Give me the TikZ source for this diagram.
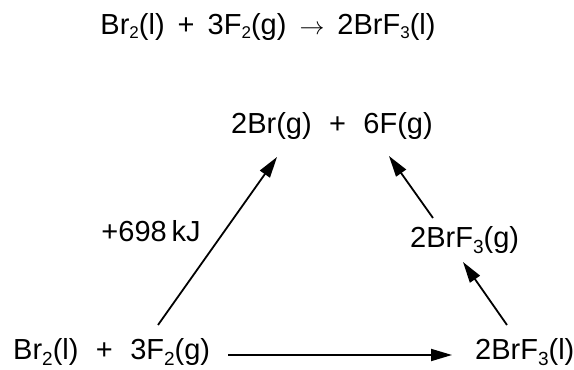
\documentclass[tikz,border=0pt]{standalone}
\usepackage{fontspec}
\setmainfont{Liberation Sans}
\usetikzlibrary{arrows.meta,calc,positioning}
\newcommand{\sbs}[1]{\raisebox{-0.2em}{\fontsize{19}{19}\selectfont #1}}
\newcommand{\sbt}[1]{\raisebox{-0.12em}{\fontsize{17}{17}\selectfont #1}}
\newcommand{\gap}{\hspace{0.6em}}
\newcommand{\tgap}{\hspace{0.45em}}

\begin{document}
\begin{tikzpicture}[x=1pt,y=1pt,
  chem/.style={inner sep=0pt,font=\fontsize{29}{34}\selectfont},
  arr/.style={-{Triangle[length=21pt,width=12pt]},line width=1.8pt}]
  \useasboundingbox (0,0) rectangle (574,370);
  \node[chem,anchor=base] (eq) at (268,335) {Br\sbt{2}(l)\tgap+\tgap 3F\sbt{2}(g)\tgap$\rightarrow$\tgap 2BrF\sbt{3}(l)};
  \node[chem,anchor=base west] (top) at (231,236) {2Br(g)\gap+\gap 6F(g)};
  \node[chem,anchor=base west] (left) at (13,10) {Br\sbs{2}(l)\gap+\gap 3F\sbs{2}(g)};
  \node[chem,anchor=base west] (right) at (475,10) {2BrF\sbs{3}(l)};
  \node[chem,anchor=base west] (mid) at (410,122) {2BrF\sbs{3}(g)};
  \draw[arr] ([shift={(145,35)}]left.base west) -- node[chem,pos=0.5,anchor=base east,xshift=-16pt,yshift=-1pt] (dh) {+698\,kJ} ([shift={(46,-23)}]top.base west);
  \draw[arr] ([shift={(18,5)}]left.base east) -- ([shift={(-23,5)}]right.base west);
  \draw[arr] ([shift={(32,35)}]right.base west) -- ([shift={(53,-14)}]mid.base west);
  \draw[arr] ([shift={(23,30)}]mid.base west) -- ([shift={(158,-22)}]top.base west);
\end{tikzpicture}
\end{document}
